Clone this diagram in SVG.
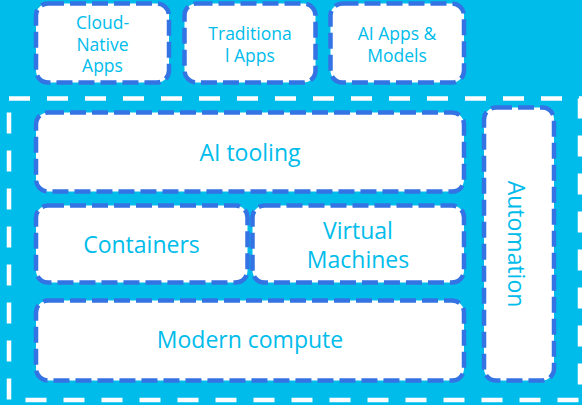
<svg xmlns="http://www.w3.org/2000/svg" width="582" height="405" viewBox="0 0 582 405">
<style>
.box{fill:#ffffff;stroke:#3473E4;stroke-width:4.5;stroke-dasharray:16 6}
.lbl{font-family:"Open Sans","Liberation Sans",sans-serif;font-weight:400;fill:#00BCEB;text-anchor:middle}
.sm{font-size:17.5px}
.lg{font-size:23px}
</style>
<rect x="0" y="0" width="582" height="405" fill="#00BCEB"/>
<g id="connectors"></g>
<g id="frame">
<rect x="9" y="98.5" width="571" height="301.5" fill="none" stroke="#ffffff" stroke-width="4.5" stroke-dasharray="21 17"/>
</g>
<g id="cloud-native">
<rect class="box" x="36" y="3.5" width="133" height="79" rx="12"/>
<text class="lbl sm" x="102.5" y="29">Cloud-</text>
<text class="lbl sm" x="102.5" y="50.5">Native</text>
<text class="lbl sm" x="102.5" y="72">Apps</text>
</g>
<g id="traditional">
<rect class="box" x="184.5" y="3.5" width="131" height="79" rx="12"/>
<text class="lbl sm" x="250" y="40">Traditiona</text>
<text class="lbl sm" x="250" y="62">l Apps</text>
</g>
<g id="ai-apps">
<rect class="box" x="330.5" y="3.5" width="133.5" height="79" rx="12"/>
<text class="lbl sm" x="397" y="40">AI Apps &amp;</text>
<text class="lbl sm" x="397" y="62">Models</text>
</g>
<g id="ai-tooling">
<rect class="box" x="36" y="112.5" width="428" height="79" rx="12"/>
<text class="lbl lg" x="250" y="161">AI tooling</text>
</g>
<g id="containers">
<rect class="box" x="36" y="205.5" width="211.5" height="77" rx="12"/>
<text class="lbl lg" x="141.5" y="253">Containers</text>
</g>
<g id="virtual-machines">
<rect class="box" x="252.5" y="205.5" width="211.5" height="77" rx="12"/>
<text class="lbl lg" x="358" y="239">Virtual</text>
<text class="lbl lg" x="358" y="268">Machines</text>
</g>
<g id="modern-compute">
<rect class="box" x="36" y="300.5" width="428" height="80" rx="12"/>
<text class="lbl lg" x="250" y="348">Modern compute</text>
</g>
<g id="automation">
<rect class="box" x="484" y="107.5" width="70" height="273" rx="12"/>
<text class="lbl lg" transform="translate(508,244) rotate(90)" x="0" y="0">Automation</text>
</g>
</svg>
